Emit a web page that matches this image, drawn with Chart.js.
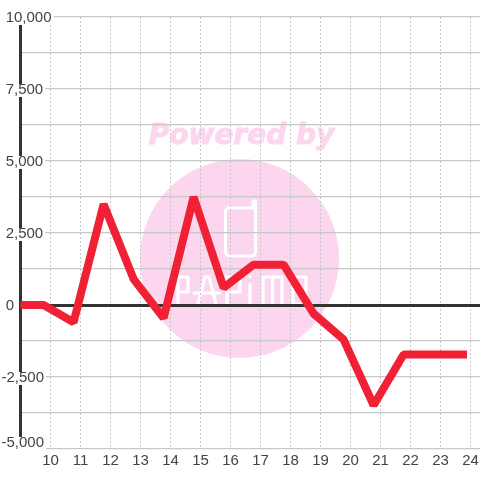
<!DOCTYPE html>
<html><head><meta charset="utf-8">
<style>html,body{margin:0;padding:0;background:#fff}canvas{display:block}</style>
<script src="https://cdn.jsdelivr.net/npm/chart.js@4"></script></head>
<body><div style="width:480px;height:480px"><canvas id="c" width="480" height="480"></canvas></div>
<script>
const xLabels = [10,11,12,13,14,15,16,17,18,19,20,21,22,23,24];
const xValues = [8.77,9.77,10.77,11.77,12.77,13.77,14.77,15.77,16.77,17.77,18.77,19.77,20.77,21.77,22.77,23.75];
const yValues = [0,0,-600,3500,900,-450,3750,600,1400,1400,-300,-1200,-3480,-1720,-1720,-1720];
const yLabelled = {10000:'\u00a010,000',7500:'\u00a07,500',5000:'\u00a05,000',2500:'\u00a02,500',0:'\u00a00','-2500':'-2,500','-5000':'-5,000'};
const PINK='#fcd6ee';
const watermark={id:'watermark',beforeDraw(ch){
  const c=ch.ctx;c.save();
  c.fillStyle='#fff';c.fillRect(0,0,480,480);
  c.fillStyle=PINK;c.strokeStyle=PINK;
  c.font='italic bold 28px "DejaVu Sans"';c.textAlign='center';c.textBaseline='alphabetic';
  c.lineWidth=1;c.lineJoin='round';
  c.fillText('Powered by',241.5,144);c.strokeText('Powered by',241.5,144);
  c.beginPath();c.arc(239.5,258.5,99.5,0,Math.PI*2);c.fill();
  c.strokeStyle='#fff';c.lineWidth=3;c.lineCap='round';
  c.beginPath();
  c.moveTo(253,208);c.lineTo(230,208);c.quadraticCurveTo(225.5,208,225.5,212);
  c.lineTo(225.5,251);c.quadraticCurveTo(225.5,256,230,256);c.lineTo(251,256);
  c.quadraticCurveTo(255.5,256,255.5,251);c.lineTo(255.5,201);c.lineTo(253,201);c.lineTo(253,208);
  c.stroke();
  c.lineWidth=3.2;
  const L=[[[178,304],[178,277],[188,277],[188,292],[178,292]],
           [[198,304],[205,277],[209,277],[216,304]],[[194,293],[220,293]],
           [[227,304],[227,277],[240,277],[240,292],[227,292]],
           [[250,284],[250,304]],[[250,276],[250,276.5]],
           [[263,304],[263,277],[282,277],[282,304]],[[272.5,277],[272.5,304]],
           [[293,277],[306,277],[306,304],[293,304],[293,277]]];
  for(const p of L){c.beginPath();p.forEach((q,i)=>i?c.lineTo(q[0],q[1]):c.moveTo(q[0],q[1]));c.stroke();}
  c.restore();
}};
const nudgeLabels={id:'nudgeLabels',beforeDraw(ch){
  const s=ch.scales.y;
  s.getLabelItems(ch.chartArea).forEach(it=>{
    if(it.__n)return;it.__n=true;
    it.options.translation=[it.options.translation[0],it.options.translation[1]+(it.label==='-5,000'?-6:1)];
  });
}};
new Chart(document.getElementById('c'),{
  type:'line',
  data:{datasets:[{data:xValues.map((x,i)=>({x,y:yValues[i]})),borderColor:'#f02035',borderWidth:8,pointRadius:0,tension:0,borderJoinStyle:'bevel',borderCapStyle:'square'}]},
  plugins:[watermark,nudgeLabels],
  options:{responsive:false,animation:false,
    layout:{padding:{left:1.5,top:17,right:0,bottom:0}},
    plugins:{legend:{display:false},tooltip:{enabled:false},title:{display:false}},
    scales:{
      x:{type:'linear',min:9,max:24.3167,
        afterBuildTicks(s){s.ticks=[9].concat(xLabels).map(v=>({value:v}));},
        afterFit(s){s.height=31;s.paddingLeft=0;s.paddingRight=0;},
        grid:{color:'#c8c8c8',lineWidth:1,drawTicks:false,tickLength:0},
        border:{display:false,dash:[2,2]},
        ticks:{autoSkip:false,maxRotation:0,padding:3,color:'#444',font:{family:'Liberation Sans',size:15},
          callback:v=>xLabels.includes(v)?String(v):''}},
      y:{type:'linear',min:-5000,max:10000,
        afterFit(s){s.width=19;s.paddingTop=0;s.paddingBottom=0;},
        grid:{drawTicks:false,tickLength:0,lineWidth:c=>c.tick.value===0?3:1.3,color:c=>c.tick.value===0?'#333':'#c8c8c8'},
        border:{display:true,color:'#333',width:3},
        ticks:{stepSize:1250,autoSkip:false,mirror:true,padding:-19,color:'#444',
          font:{family:'Liberation Sans',size:15},
          showLabelBackdrop:true,backdropColor:'#fff',
          backdropPadding:{top:-3,bottom:-2,left:2,right:2},
          callback:v=>yLabelled[v]||''}}
    }}
});
</script></body></html>
